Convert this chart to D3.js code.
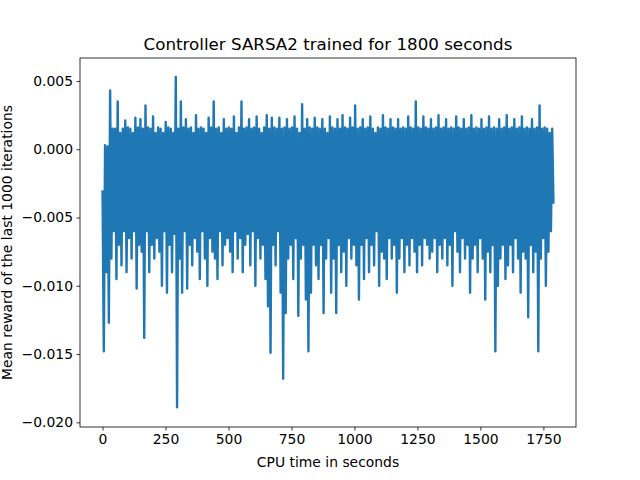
<!DOCTYPE html>
<html>
<head>
<meta charset="utf-8">
<script src="https://cdn.jsdelivr.net/npm/d3@7"></script>
<style>
body { margin: 0; background: #fff; }
text { font-family: "DejaVu Sans", sans-serif; }
</style>
</head>
<body>
<svg id="mainSvg" width="640" height="480"></svg>
<script>
// rewards in units of 1e-3 in 50 s blocks
var rewardMilli = [
 -3,-14.8,0.3,-9,0.2,-12.7,4.3,-8,1.5,-6,
 1.5,-9.5,3.5,-7,1.2,-8.5,1.5,-6,2.1,-9,
 1.6,-6.5,1.5,-8,1.2,-6,2.3,-10.2,1.6,-7,
 2.2,-7.5,1.5,-13.8,3.2,-6,1.6,-9,1.5,-7,
 2.4,-8,1.2,-6.5,1.6,-7.5,1.5,-10,1.2,-6,
 2.0,-10.5,1.6,-7,1.5,-9,1.2,-6.2,5.3,-18.9,
 1.5,-8,3.5,-10.5,1.6,-6,2.2,-10.2,1.5,-7,
 1.6,-8.5,1.2,-6.5,2.5,-7.5,1.5,-9.5,1.6,-6,
 1.5,-8,1.2,-10,2.3,-6.5,1.6,-7.5,3.5,-8,
 1.5,-9.5,1.6,-6,1.2,-8.5,2.2,-7,1.5,-6.5,
 1.6,-7.5,1.5,-9,2.4,-6,1.2,-8,1.6,-6.5,
 3.5,-9,1.5,-7,1.6,-6.2,2.2,-8.5,1.5,-6,
 1.6,-10,2.4,-6.5,1.5,-8,1.2,-7,1.6,-9.5,
 2.5,-11.5,1.5,-14.9,2.3,-7,1.6,-8.5,1.5,-6,
 2.3,-10.5,1.5,-16.8,1.6,-12,2.2,-8,1.5,-7,
 1.6,-9.5,2.4,-6.5,1.5,-12.2,1.2,-8,3.3,-7,
 1.5,-11,2.2,-14.8,1.6,-10.5,1.5,-7,2.3,-8.5,
 1.6,-9.5,1.5,-7,2.2,-12,1.5,-8,1.2,-6.5,
 2.4,-10.5,1.6,-8,1.5,-12,2.2,-7,1.5,-9,
 2.5,-7.5,1.6,-10,1.5,-6.5,2.3,-8,1.6,-7,
 3.2,-8.5,1.5,-11,1.6,-7,2.2,-9.5,1.5,-6.5,
 1.6,-9,2.4,-7,1.5,-8.5,1.2,-6,1.6,-10,
 1.5,-7.5,2.5,-8,1.6,-9.5,1.5,-6.5,2.2,-8,
 1.6,-7,1.5,-10.5,2.2,-8,1.5,-6.5,1.6,-9,
 1.5,-7,2.4,-8.5,1.6,-6.5,1.5,-7.5,3.5,-9,
 1.6,-7,1.5,-8.5,2.4,-6.5,1.6,-7,1.5,-8,
 2.2,-7.5,1.5,-6.5,1.6,-9,2.5,-7,1.5,-8,
 1.6,-6.5,2.2,-8.5,1.5,-7,1.6,-10,1.5,-6,
 2.4,-7.5,1.6,-9,1.5,-6.5,2.2,-8,1.5,-7,
 1.6,-10.5,2.5,-8,1.5,-7,1.6,-9,1.5,-6.5,
 2.2,-8,1.5,-11,1.6,-7.5,2.4,-9,1.5,-7,
 1.6,-14.8,1.5,-10,2.2,-8,1.5,-7,1.6,-9.5,
 2.5,-8.5,1.5,-7,1.6,-9,2.2,-6.5,1.5,-8,
 1.6,-10.5,2.4,-7.5,1.5,-8,1.6,-12.3,1.5,-7,
 2.2,-9,1.5,-7.5,1.6,-14.8,3.2,-8,1.5,-6.5,
 1.6,-10,1.5,-7.5,1.2,-6,1.5,-4
];
var endTime = 1790;
var xTicks = [0, 250, 500, 750, 1000, 1250, 1500, 1750];
var yTicks = [0.005, 0.000, -0.005, -0.010, -0.015, -0.020];

var margin = {top: 58, right: 64, bottom: 53, left: 80},
width = 640 - margin.left - margin.right,
height = 480 - margin.top - margin.bottom;

var data = rewardMilli.map(function(v, i) {
	return {t: i * endTime / (rewardMilli.length - 1), r: v / 1000};
});

var x = d3.scaleLinear().domain([-89.5, 1879.5]).range([0, width]);
var y = d3.scaleLinear().domain([-0.02034, 0.00668]).range([height, 0]);

var svg = d3.select("#mainSvg");
var g = svg.append("g").attr("transform", "translate(" + margin.left + "," + margin.top + ")");

var valueline = d3.line()
	.x(function(d) { return x(d.t); })
	.y(function(d) { return y(d.r); });

g.append("path")
	.attr("d", valueline(data))
	.attr("fill", "none")
	.attr("stroke", "#1f77b4")
	.attr("stroke-width", 2.4)
	.attr("stroke-linejoin", "round");

g.append("rect")
	.attr("width", width).attr("height", height)
	.attr("fill", "none").attr("stroke", "#000").attr("stroke-width", 0.8);

var xAxis = g.append("g")
	.attr("transform", "translate(0," + height + ")")
	.call(d3.axisBottom(x).tickValues(xTicks).tickSize(3.5).tickPadding(3.5).tickFormat(d3.format("d")));
var yAxis = g.append("g")
	.call(d3.axisLeft(y).tickValues(yTicks).tickSize(3.5).tickPadding(3.5).tickFormat(d3.format(".3f")));
[xAxis, yAxis].forEach(function(a) {
	a.select(".domain").remove();
	a.selectAll("text").attr("font-size", 13.9).attr("font-family", "DejaVu Sans").attr("fill", "#000");
	a.selectAll("line").attr("stroke", "#000").attr("stroke-width", 0.8);
});
yAxis.selectAll("text").text(function(d) { return d3.format(".3f")(d).replace("-", "\u2212"); });

svg.append("text")
	.attr("x", margin.left + width / 2).attr("y", 50)
	.attr("text-anchor", "middle").attr("font-size", 16.7)
	.text("Controller SARSA2 trained for 1800 seconds");

svg.append("text")
	.attr("x", margin.left + width / 2).attr("y", 467)
	.attr("text-anchor", "middle").attr("font-size", 13.9)
	.text("CPU time in seconds");

svg.append("text")
	.attr("transform", "translate(12," + (margin.top + height / 2) + ") rotate(-90)")
	.attr("text-anchor", "middle").attr("font-size", 13.9)
	.text("Mean reward of the last 1000 iterations");
</script>
</body>
</html>
